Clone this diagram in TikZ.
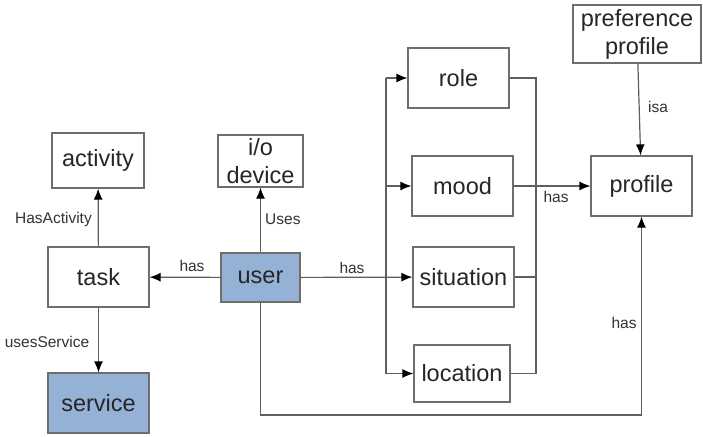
\documentclass[tikz,border=0pt]{standalone}
\usepackage{fontspec}
\setmainfont{Liberation Sans}
\usetikzlibrary{arrows.meta}
\definecolor{boxline}{RGB}{110,110,110}
\definecolor{conn}{RGB}{95,95,95}
\definecolor{bluefill}{RGB}{150,177,214}
\tikzset{
  box/.style={draw=boxline, line width=1.2pt, fill=white, rectangle, align=center, inner sep=0pt,
    font=\fontsize{23.5}{28}\selectfont, text=black!85},
  bluebox/.style={box, fill=bluefill},
  conn/.style={draw=conn, line width=1.2pt},
  arr/.style={conn, -{Latex[length=11pt,width=9pt,color=black]}},
  lbl/.style={font=\fontsize{15.5}{17}\selectfont, text=black!80, inner sep=0pt}
}
\begin{document}
\begin{tikzpicture}[x=1pt,y=-1pt]
\useasboundingbox (0,0) rectangle (703,436);
\fill[white] (0,0) rectangle (703,436);
% nodes
\node[box, minimum width=92pt, minimum height=55pt] (activity) at (98,160.5) {activity};
\node[box, minimum width=85pt, minimum height=52pt] (io) at (260.5,161) {i/o\\device};
\node[box, minimum width=101pt, minimum height=60pt] (task) at (98.5,277) {task};
\node[bluebox, minimum width=79pt, minimum height=49pt] (user) at (260.5,277.5) {user};
\node[bluebox, minimum width=101pt, minimum height=60pt] (service) at (98.5,403) {service};
\node[box, minimum width=128pt, minimum height=58pt] (pref) at (637,34) {preference\\profile};
\node[box, minimum width=101pt, minimum height=60pt] (role) at (458.5,78) {role};
\node[box, minimum width=101pt, minimum height=60pt] (mood) at (462.5,186) {mood};
\node[box, minimum width=101pt, minimum height=60pt] (situation) at (463.5,277) {situation};
\node[box, minimum width=96pt, minimum height=57pt] (location) at (462,373.5) {location};
\node[box, minimum width=101pt, minimum height=60pt] (profile) at (641.5,186) {profile};
% coordinates
\coordinate (lt) at (386,78);
\coordinate (lb) at (386,373.5);
\coordinate (rt) at (536,78);
\coordinate (rb) at (536,373.5);
\coordinate (rs) at (536,277);
\coordinate (ud) at (260.5,415);
\coordinate (pd) at (641.5,415);
% connectors
\draw[arr] (task) -- (activity);
\draw[arr] (user) -- (io);
\draw[arr] (user) -- (task);
\draw[arr] (task) -- (service);
\draw[conn] (lt) -- (lb);
\draw[arr] (lt) -- (role.west);
\draw[arr] (lt |- mood.west) -- (mood.west);
\draw[arr] (lb) -- (location.west);
\draw[arr] (user) -- (situation);
\draw[conn] (role.east) -- (rt) -- (rb) -- (location.east);
\draw[conn] (situation.east) -- (rs);
\draw[arr] (mood.east) -- (profile.west);
\draw[arr] (pref) -- (profile);
\draw[arr] (user.south) -- (ud) -- (pd) -- (profile.south);
% labels
\node[lbl, anchor=east] (l1) at (92,219) {HasActivity};
\node[lbl, anchor=west] (l2) at (265,219) {Uses};
\node[lbl] (l3) at (192,266) {has};
\node[lbl] (l4) at (352,268) {has};
\node[lbl] (l5) at (556,197) {has};
\node[lbl, anchor=west] (l6) at (648,107) {isa};
\node[lbl] (l7) at (624,323) {has};
\node[lbl] (l8) at (47,342) {usesService};
\end{tikzpicture}
\end{document}
